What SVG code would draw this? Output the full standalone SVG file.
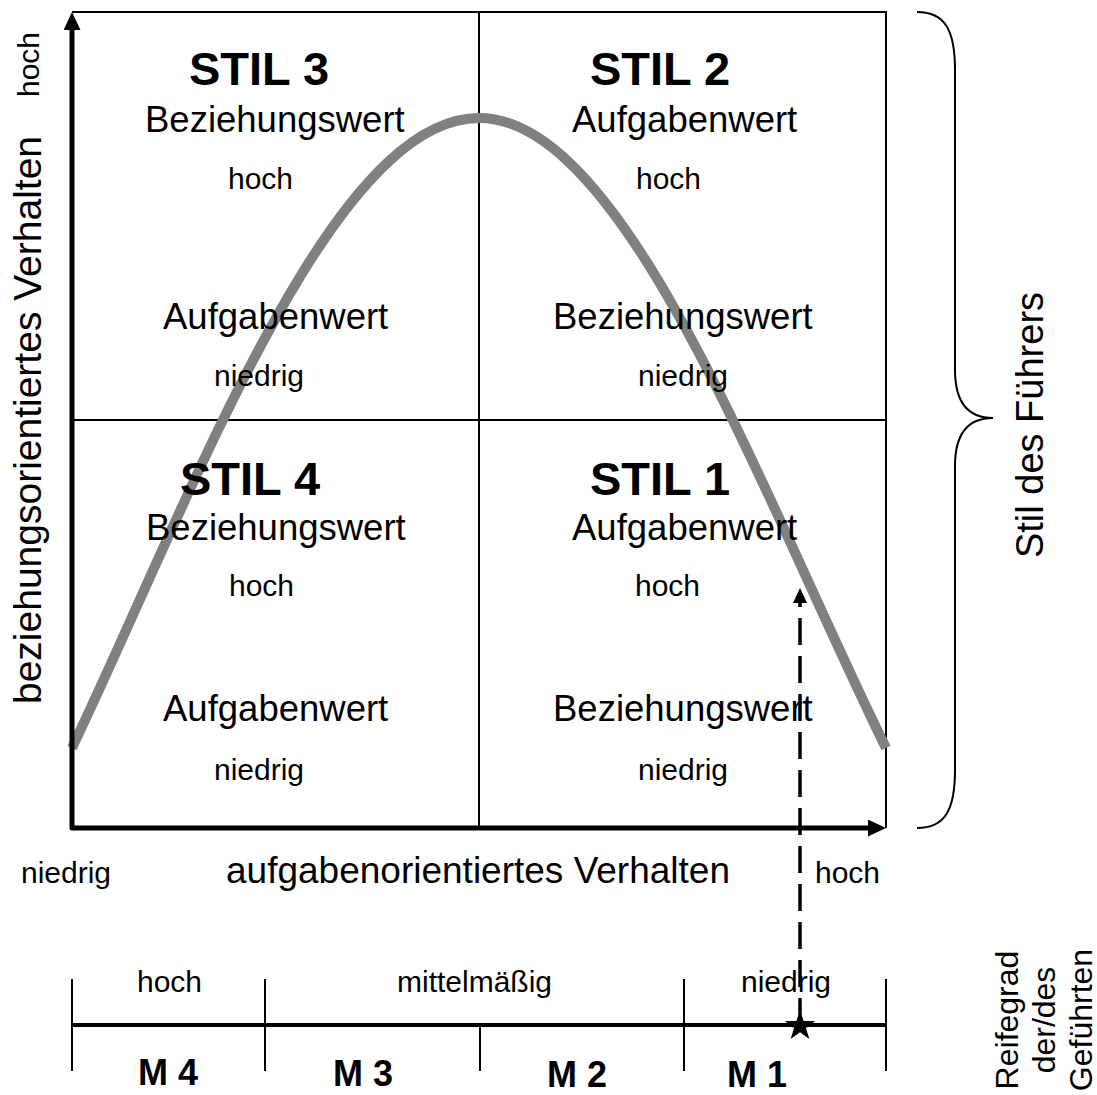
<svg xmlns="http://www.w3.org/2000/svg" width="1097" height="1095" viewBox="0 0 1097 1095">
<style>
text{font-family:"Liberation Sans",Arial,sans-serif;fill:#000}
.big{font-size:36.5px}
.sm{font-size:30px}
.stil{font-size:47px;font-weight:bold}
.m{font-size:36px;font-weight:bold}
.thin{stroke:#000;stroke-width:2;fill:none}
.axis{stroke:#000;stroke-width:5;fill:none;stroke-linejoin:round}
</style>
<defs>
<marker id="ah" markerUnits="userSpaceOnUse" markerWidth="18" markerHeight="17" refX="0" refY="8.5" orient="auto-start-reverse" viewBox="0 0 18 17"><path d="M0,0 L18,8.5 L0,17 z" fill="#000"/></marker>
<marker id="ahs" markerUnits="userSpaceOnUse" markerWidth="15" markerHeight="14" refX="0" refY="7" orient="auto" viewBox="0 0 15 14"><path d="M0,0 L15,7 L0,14 z" fill="#000"/></marker>
</defs>
<g id="grid">
<path class="thin" d="M72,12 H886 V828 M479,12 V828 M72,420 H886"/>
</g>
<g id="curve">
<path d="M72,748 C192,496 330,118 479,118 C626,118 762,496 886,748" fill="none" stroke="#808080" stroke-width="10"/>
</g>
<g id="connectors">
<path class="axis" d="M72,30 V828 H868" marker-start="url(#ah)" marker-end="url(#ah)"/>
<line x1="800" y1="1025" x2="800" y2="603" stroke="#000" stroke-width="3.5" stroke-dasharray="27 11" marker-end="url(#ahs)"/>
<path class="thin" d="M917,12 C945,12 955,30 955,70 L955,370 C955,405 970,418 993,418 C970,418 955,431 955,466 L955,770 C955,810 945,828 917,828"/>
</g>
<g id="stil3">
<text class="stil" x="189" y="85">STIL 3</text>
<text class="big" x="145" y="132">Beziehungswert</text>
<text class="sm" x="228" y="189">hoch</text>
<text class="big" x="163" y="329">Aufgabenwert</text>
<text class="sm" x="214" y="386">niedrig</text>
</g>
<g id="stil2">
<text class="stil" x="590" y="85">STIL 2</text>
<text class="big" x="572" y="132">Aufgabenwert</text>
<text class="sm" x="636" y="189">hoch</text>
<text class="big" x="553" y="329">Beziehungswert</text>
<text class="sm" x="638" y="386">niedrig</text>
</g>
<g id="stil4">
<text class="stil" x="180" y="495">STIL 4</text>
<text class="big" x="146" y="540">Beziehungswert</text>
<text class="sm" x="229" y="596">hoch</text>
<text class="big" x="163" y="721">Aufgabenwert</text>
<text class="sm" x="214" y="780">niedrig</text>
</g>
<g id="stil1">
<text class="stil" x="590" y="495">STIL 1</text>
<text class="big" x="572" y="540">Aufgabenwert</text>
<text class="sm" x="635" y="596">hoch</text>
<text class="big" x="553" y="721">Beziehungswert</text>
<text class="sm" x="638" y="780">niedrig</text>
</g>
<g id="axis-labels">
<text class="sm" transform="translate(39,64.5) rotate(-90)" text-anchor="middle">hoch</text>
<text transform="translate(41,420) rotate(-90)" text-anchor="middle" style="font-size:39px">beziehungsorientiertes Verhalten</text>
<text class="sm" x="21" y="883">niedrig</text>
<text x="226" y="883" style="font-size:37px">aufgabenorientiertes Verhalten</text>
<text class="sm" x="815" y="883">hoch</text>
<text transform="translate(1043,425) rotate(-90)" text-anchor="middle" style="font-size:38px">Stil des Führers</text>
</g>
<g id="scale">
<line x1="72" y1="1025" x2="886" y2="1025" stroke="#000" stroke-width="4"/>
<path class="thin" d="M72,979 V1071 M265,979 V1071 M480,1025 V1071 M684,979 V1071 M886,979 V1071"/>
<text class="sm" x="137" y="992">hoch</text>
<text class="sm" x="397" y="992">mittelmäßig</text>
<text class="sm" x="741" y="992">niedrig</text>
<text class="m" x="138" y="1085">M 4</text>
<text class="m" x="333" y="1086">M 3</text>
<text class="m" x="547" y="1087">M 2</text>
<text class="m" x="727" y="1087">M 1</text>
<polygon points="800,1010 803.6,1021 815.2,1021.1 805.9,1027.9 809.4,1038.9 800,1032.2 790.6,1038.9 794.1,1027.9 784.8,1021.1 796.4,1021" fill="#000"/>
</g>
<g id="reifegrad" style="font-size:32px" text-anchor="middle">
<text transform="translate(1018,1020) rotate(-90)">Reifegrad</text>
<text transform="translate(1055,1020) rotate(-90)">der/des</text>
<text transform="translate(1092,1020) rotate(-90)">Geführten</text>
</g>
</svg>
